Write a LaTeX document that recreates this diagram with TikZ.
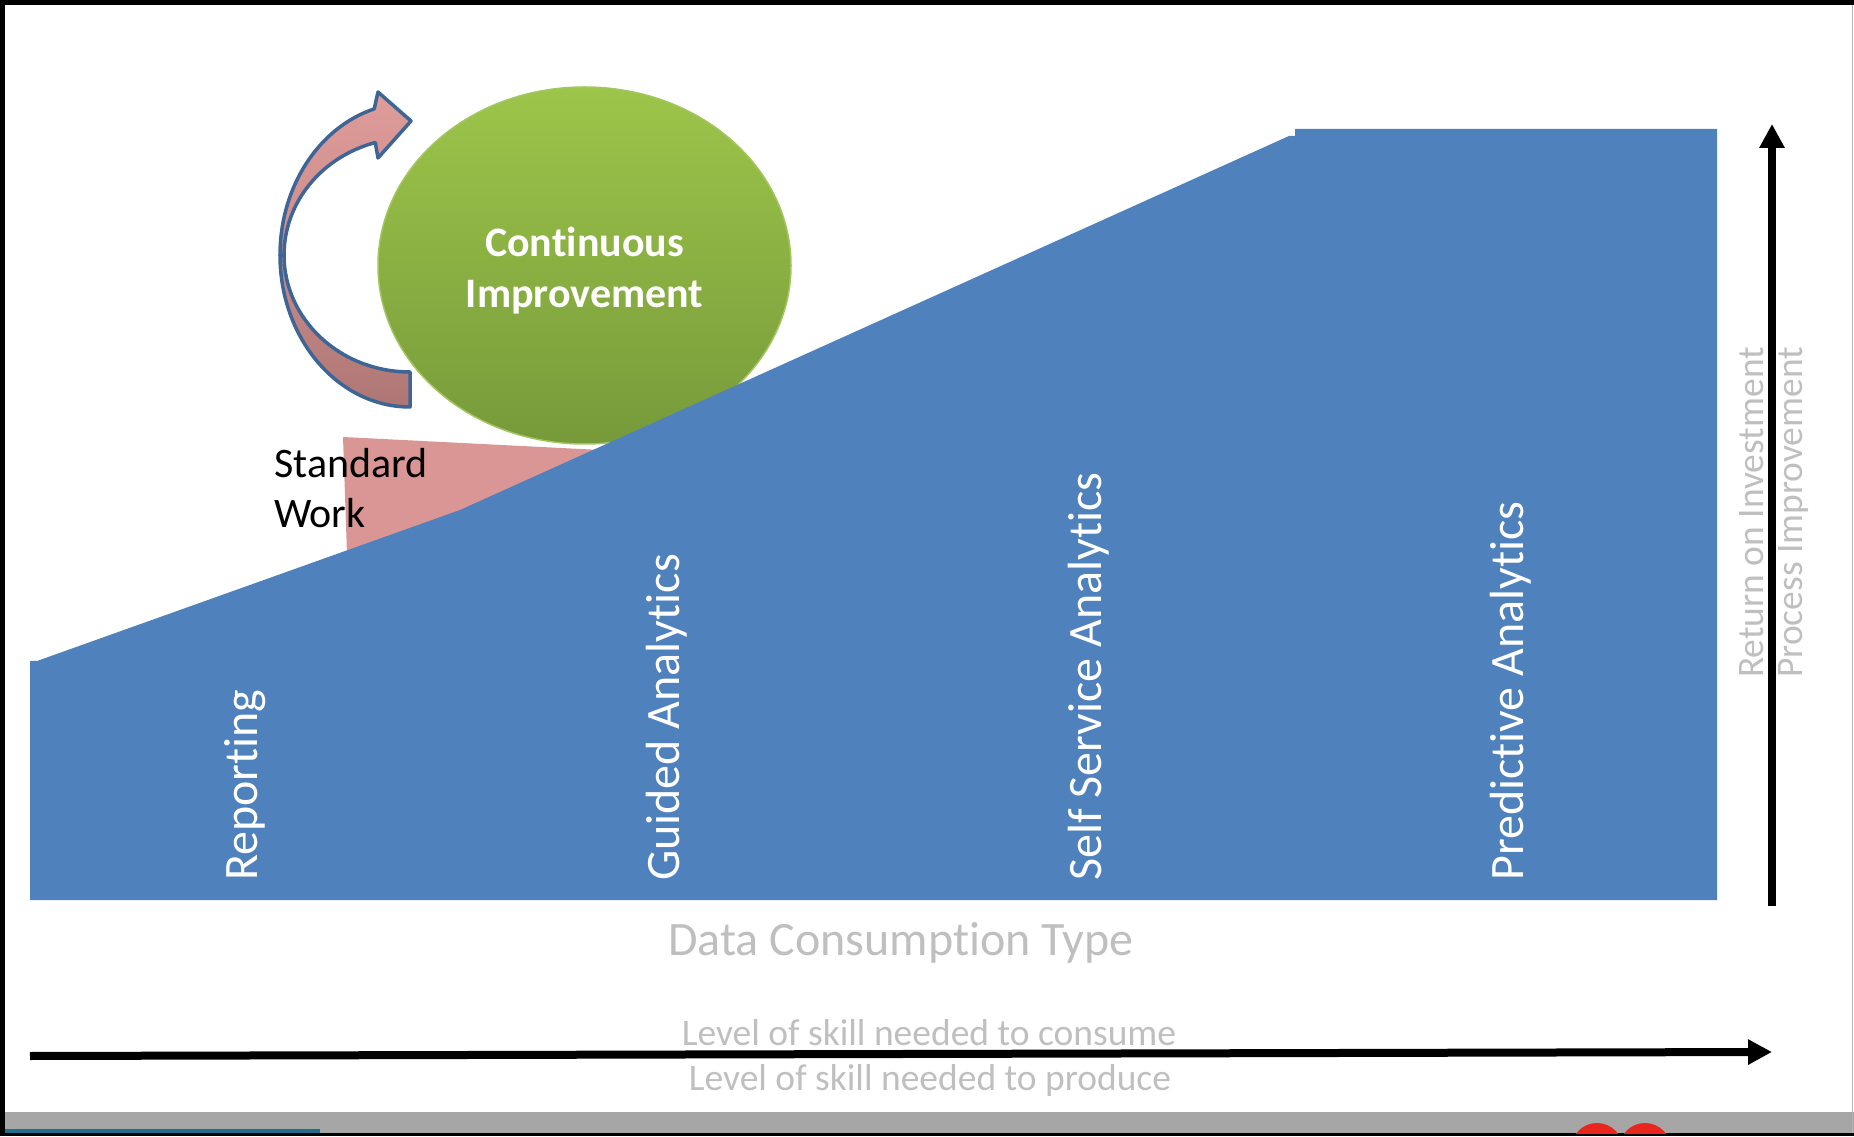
\documentclass[tikz,border=0pt]{standalone}
\usepackage{fontspec}
\setmainfont{Carlito}[Ligatures=CommonOff]
\usepackage{tikz}
\usetikzlibrary{arrows.meta,shapes.geometric}
\definecolor{slope}{HTML}{4F81BD}
\definecolor{wedge}{HTML}{D99694}
\definecolor{ciTop}{HTML}{9DC54A}
\definecolor{ciBot}{HTML}{779A3A}
\definecolor{ciEdge}{HTML}{A3C660}
\definecolor{bandEdge}{HTML}{3D6596}
\definecolor{bandTop}{HTML}{DE9C9A}
\definecolor{bandMid}{HTML}{CB8C8A}
\definecolor{bandLow}{HTML}{AD7674}
\definecolor{noteGray}{HTML}{BFBFBF}
\definecolor{stripGray}{HTML}{A6A6A6}
\definecolor{stripTeal}{HTML}{1F6E8C}
\definecolor{blobRed}{HTML}{E8261E}
\def\cifont{\bfseries\fontsize{42pt}{51pt}\selectfont}
\def\swfont{\fontsize{42pt}{50pt}\selectfont}
\def\catfont{\fontsize{48pt}{56pt}\selectfont}
\def\skillfont{\fontsize{37.5pt}{44pt}\selectfont}

\begin{document}
\begin{tikzpicture}[x=1pt, y=1pt, >={Triangle[length=24pt, width=24pt]}, cat/.style={rotate=90, anchor=base west, inner sep=0pt, text=white, font=\catfont}, roi/.style={rotate=90, anchor=base west, inner sep=0pt, text=noteGray, font=\skillfont}, skill/.style={anchor=base, inner sep=0pt, text=noteGray, font=\skillfont}, axis/.style={->, line width=8pt}, band/.style={draw=bandEdge, line width=3.5pt, line join=round}]
	\useasboundingbox (0,0) rectangle (1854,1136);
	% frame of the screenshot
	\fill[black] (0,1131) rectangle (1854,1136);
	\fill[black] (0,0) rectangle (5,1136);
	\fill[black] (0,0) rectangle (1854,3);
	\fill[stripGray] (5,3) rectangle (1854,24);
	\fill[stripTeal] (5,3) rectangle (320,7);
	\begin{scope}
		\clip (5,3) rectangle (1854,24);
		\fill[blobRed] (1597,-13) circle (26pt) (1645,-13) circle (26pt);
	\end{scope}
	\draw[gray!60, line width=1.5pt] (1852.5,3) -- (1852.5,1131);
	% standard work
	\fill[wedge] (343,699) -- (700,681) -- (347,582) -- cycle;
	\draw (274,608) node[anchor=base west, align=left, inner sep=0pt, font=\swfont](sw){Standard\\Work};
	% continuous improvement
	\draw (584.5,870.5) node[ellipse, inner sep=0pt, minimum width=413pt, minimum height=357pt, top color=ciTop, bottom color=ciBot, draw=ciEdge, line width=1.5pt](ci){};
	\draw (584.5,865) node[align=center, inner sep=0pt, text=white, font=\cifont](citext){Continuous\\Improvement};
	\coordinate (hub) at (410,881);
	\draw[band, top color=bandMid, bottom color=bandLow] (hub) ++(-130,0) arc[start angle=180, end angle=270, x radius=130pt, y radius=152pt] -- ++(0,35) arc[start angle=270, end angle=180, x radius=126pt, y radius=117pt] -- cycle;
	\draw[band, top color=bandTop, bottom color=bandMid] (375.3,993.5) -- (378,978) -- (411,1015) -- (378,1044) -- (374.2,1027.1) arc[start angle=106, end angle=180, x radius=130pt, y radius=152pt] -- ++(4,0) arc[start angle=180, end angle=106, x radius=126pt, y radius=117pt] -- cycle;
	% consumption types
	\fill[slope] (30,236) -- (30,475) -- (37,475) -- (460,626) -- (1289,1000) -- (1295,1000) -- (1295,1007) -- (1717,1007) -- (1717,236) -- cycle;
	\draw (257,255) node[cat](rep){Reporting};
	\draw (679,255) node[cat](gui){Guided Analytics};
	\draw (1101,255) node[cat](ssa){Self Service Analytics};
	\draw (1523,255) node[cat](pre){Predictive Analytics};
	\draw (901,181) node[anchor=base, inner sep=0pt, text=noteGray, font=\catfont](dct){Data Consumption Type};
	% axes
	\coordinate (skillL) at (30,80);
	\coordinate (skillR) at (1772,84);
	\coordinate (roiB) at (1772,230);
	\coordinate (roiT) at (1772,1012);
	\draw[axis] (skillL) -- (skillR);
	\draw[axis] (roiB) -- (roiT);
	\draw (929,91) node[skill](cons){Level of skill needed to consume};
	\draw (930,46) node[skill](prod){Level of skill needed to produce};
	\draw (1763,458) node[roi](ret){Return on Investment};
	\draw (1802,458) node[roi](proc){Process Improvement};
\end{tikzpicture}
\end{document}
